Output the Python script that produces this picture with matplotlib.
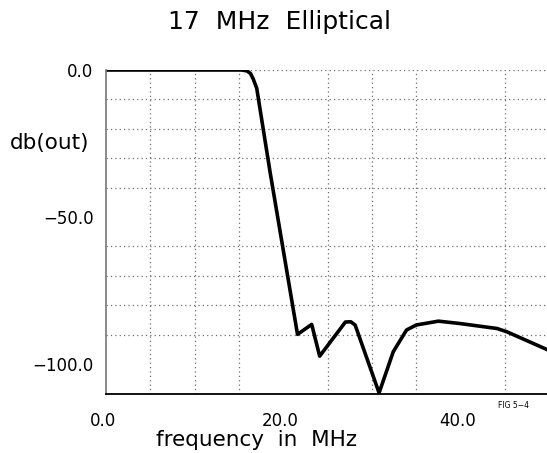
import matplotlib
matplotlib.use("Agg")
import matplotlib.pyplot as plt
import matplotlib.transforms as mtransforms

# frequency response (MHz, dB)
freq = [0.0, 15.3, 15.9, 16.3, 16.6, 17.0, 18.5, 21.6, 23.2, 24.1, 27.0, 27.6,
        28.1, 30.8, 32.4, 33.9, 35.0, 37.5, 39.9, 44.1, 45.2, 49.7]
db_out = [0.0, 0.0, -0.3, -1.2, -3.0, -6.2, -34.6, -89.9, -86.5, -97.3, -85.7, -85.6,
          -86.7, -109.8, -95.8, -88.4, -86.7, -85.4, -86.2, -87.9, -89.0, -95.0]

x_ticks = [0, 20, 40]
x_ticklabels = ["0.0", "20.0", "40.0"]
y_ticks = [0, -50, -100]
y_ticklabels = ["0.0", "\u221250.0", "\u2212100.0"]

W, H = 547, 453
fig = plt.figure(figsize=(W / 100, H / 100), dpi=100)
fig.patch.set_facecolor("white")

# axes box in pixels: left 106, top 70, bottom 393.5, right past the image edge
ax = fig.add_axes([106 / W, (H - 393.5) / H, 443.3 / W, 323.5 / H])
ax.plot(freq, db_out, color="black", linewidth=2.6, solid_joinstyle="round")

ax.set_xlim(0, 50)
ax.set_ylim(-110, 0)

# dotted grid: every 5 MHz and every 10 dB
grid_kw = dict(color="#6e6e6e", linestyle=(0, (1, 2.5)), linewidth=0.9)
ax.set_xticks(range(5, 50, 5), minor=True)
ax.set_yticks(range(-100, 1, 10), minor=True)
ax.grid(which="minor", **grid_kw)
ax.axhline(0, zorder=0, **grid_kw)
ax.tick_params(which="both", length=0)

ax.set_xticks(x_ticks)
ax.set_xticklabels(x_ticklabels, fontsize=12)
ax.set_yticks(y_ticks)
ax.set_yticklabels(y_ticklabels, fontsize=12)
ax.tick_params(axis="x", pad=13)
ax.tick_params(axis="y", pad=9)
offset = mtransforms.ScaledTranslation(-3 / 100, 0, fig.dpi_scale_trans)
for lbl in ax.get_xticklabels():
    lbl.set_transform(lbl.get_transform() + offset)

ax.spines["top"].set_visible(False)
ax.spines["right"].set_visible(False)
ax.spines["left"].set_color("#777777")
ax.spines["left"].set_linewidth(1.2)
ax.spines["bottom"].set_color("black")
ax.spines["bottom"].set_linewidth(1.3)

fig.text(279 / W, 1 - 22 / H, "17  MHz  Elliptical", fontsize=18,
         ha="center", va="center")
fig.text(50 / W, 1 - 143 / H, "db(out)", fontsize=15.5, ha="center", va="center")
fig.text(256 / W, 1 - 440 / H, "frequency  in  MHz", fontsize=15.5,
         ha="center", va="center")
fig.text(513 / W, 1 - 406 / H, "FIG 5\u22124", fontsize=5.5,
         ha="center", va="center")

fig.savefig("out.png", dpi=100, facecolor="white")
